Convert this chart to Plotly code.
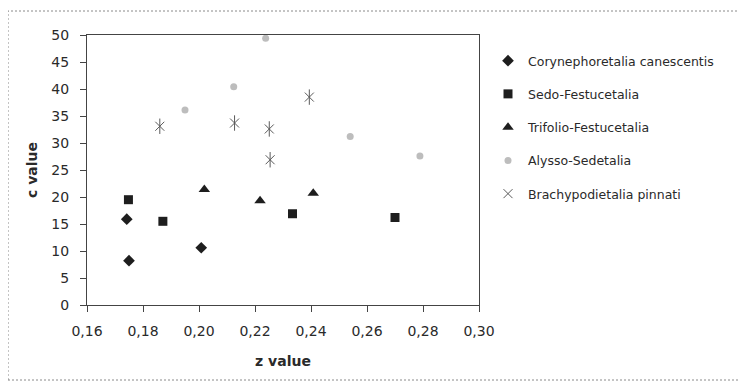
import plotly.graph_objects as go

series_names = ["Corynephoretalia canescentis", "Sedo-Festucetalia", "Trifolio-Festucetalia",
                "Alysso-Sedetalia", "Brachypodietalia pinnati"]

cory_z = [0.1742, 0.1750, 0.2008]
cory_c = [15.9, 8.2, 10.6]

sedo_z = [0.1748, 0.1871, 0.2334, 0.2700]
sedo_c = [19.5, 15.5, 16.9, 16.2]

trif_z = [0.2019, 0.2218, 0.2408]
trif_c = [21.4, 19.3, 20.7]

alys_z = [0.1950, 0.2124, 0.2238, 0.2540, 0.2789]
alys_c = [36.1, 40.4, 49.4, 31.2, 27.6]

brach_z = [0.1860, 0.2127, 0.2251, 0.2254, 0.2394]
brach_c = [33.1, 33.7, 32.6, 26.9, 38.5]

x_tickvals = [0.16, 0.18, 0.20, 0.22, 0.24, 0.26, 0.28, 0.30]
x_ticktext = ["0,16", "0,18", "0,20", "0,22", "0,24", "0,26", "0,28", "0,30"]
y_tickvals = [0, 5, 10, 15, 20, 25, 30, 35, 40, 45, 50]

# page body has an 8px margin: figure is laid out in page px minus 8
OFF = 8
W, H = 746 - OFF, 385 - OFF
L, T = 87 - OFF, 35 - OFF
R = W - (479 - OFF)
B = H - (305 - OFF)
pw, ph = W - L - R, H - T - B

FONT = "DejaVu Sans, Liberation Sans, Arial"
TXT = "#2a2a2a"

fig = go.Figure()
styles = [
    dict(symbol="diamond", size=9, color="#1e1e1e"),
    dict(symbol="square", size=9, color="#1e1e1e"),
    dict(symbol="triangle-up", size=10, color="#1e1e1e"),
    dict(symbol="circle", size=7, color="#bdbdbd"),
    dict(symbol="x-thin-open", size=9, color="#5a5a5a", line=dict(width=1, color="#5a5a5a")),
]
data = [(cory_z, cory_c), (sedo_z, sedo_c), (trif_z, trif_c), (alys_z, alys_c), (brach_z, brach_c)]
for i, ((xs, ys), name, st) in enumerate(zip(data, series_names, styles)):
    fig.add_trace(go.Scatter(x=xs, y=ys, mode="markers", name=name, marker=st,
                             legendgroup=f"g{i}"))
# vertical stroke of the Excel-style asterisk
fig.add_trace(go.Scatter(x=brach_z, y=brach_c, mode="markers", showlegend=False,
                         legendgroup="g4", hoverinfo="skip",
                         marker=dict(symbol="line-ns-open", size=11, color="#5a5a5a",
                                     line=dict(width=1, color="#5a5a5a"))))

axis_common = dict(showgrid=False, zeroline=False, showline=True, linecolor="#444",
                   linewidth=1, mirror=True, ticks="outside", ticklen=6, tickcolor="#444",
                   tickfont=dict(family=FONT, size=14, color=TXT))

fig.update_xaxes(range=[0.16, 0.30], tickvals=x_tickvals, ticktext=x_ticktext,
                 ticklabelstandoff=7,
                 title=dict(text="<b>z value</b>", standoff=18,
                            font=dict(family=FONT, size=14, color=TXT)),
                 **axis_common)
fig.update_yaxes(range=[0, 50], tickvals=y_tickvals, ticklabelstandoff=8,
                 title=dict(text="<b>c value</b>", standoff=10,
                            font=dict(family=FONT, size=14, color=TXT)),
                 **axis_common)

fig.add_shape(type="rect", xref="paper", yref="paper",
              x0=(8 - 87) / pw, x1=(742 - 87) / pw,
              y0=(305 - 380) / ph, y1=(305 - 11) / ph,
              line=dict(color="#8a8a8a", width=1, dash="2px,2px"), layer="below")

fig.update_layout(
    width=W, height=H,
    margin=dict(l=L, r=R, t=T, b=B),
    paper_bgcolor="white", plot_bgcolor="white",
    font=dict(family=FONT, color=TXT),
    legend=dict(x=(488 - 87) / pw, y=(305 - 46) / ph, xanchor="left", yanchor="top",
                font=dict(family=FONT, size=12.5, color=TXT),
                tracegroupgap=14, bgcolor="rgba(0,0,0,0)", itemsizing="trace"),
)

fig.write_html("out.html")
